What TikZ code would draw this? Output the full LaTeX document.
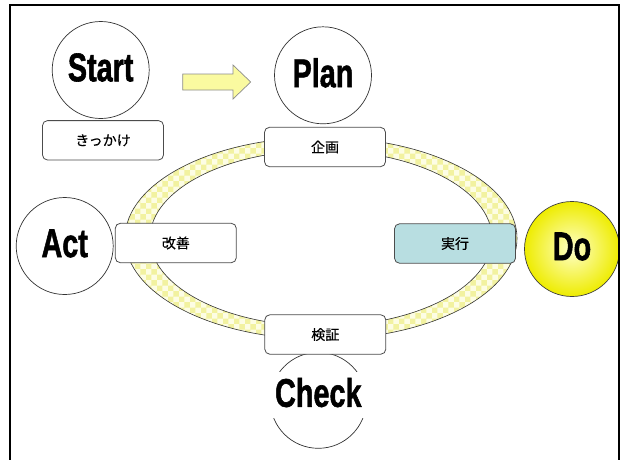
\documentclass[tikz,border=0pt]{standalone}
\usepackage{fontspec}
\usepackage{graphicx}
\setmainfont{Liberation Sans}
\newfontfamily\jp[FakeBold=0.4]{Noto Sans CJK JP}
\newfontfamily\heavy[FakeBold=1.6]{Liberation Sans Bold}
\usetikzlibrary{patterns}
\definecolor{ringA}{RGB}{253,253,228}
\definecolor{ringB}{RGB}{242,242,160}
\definecolor{arrowfill}{RGB}{250,250,160}
\definecolor{doin}{RGB}{255,255,200}
\definecolor{doout}{RGB}{238,236,0}
\definecolor{jikkou}{RGB}{184,222,225}
\newcommand{\pdcabig}[1]{\raisebox{2.5pt}[\height][\depth]{\scalebox{0.72}[1]{\fontsize{40}{40}\heavy #1}}}
\tikzset{
  bigcirc/.style={circle, draw=black!80, line width=0.7pt, fill=white, minimum size=97pt, inner sep=0pt},
  jpbox/.style={rectangle, rounded corners=5pt, draw=black!70, line width=0.8pt, fill=white,
    minimum width=121pt, minimum height=39.4pt, inner sep=0pt, font=\jp\fontsize{14}{15}\selectfont},
  ringline/.style={draw=black!80, line width=0.6pt},
  blockarrow/.style={draw=black!45, line width=0.7pt, fill=arrowfill},
  frameline/.style={draw=black, line width=2pt}
}
\begin{document}
\begin{tikzpicture}[x=1pt,y=-1pt]
\useasboundingbox (0,0) rectangle (623,459);
\clip (0,0) rectangle (623,459);
\fill[white] (0,0) rectangle (623,459);
% ring
\coordinate (rc) at (321,238.3);
\fill[ringA, even odd rule] (rc) ellipse [x radius=196, y radius=101] (rc) ellipse [x radius=171, y radius=88];
\fill[pattern=checkerboard, pattern color=ringB, even odd rule] (rc) ellipse [x radius=196, y radius=101] (rc) ellipse [x radius=171, y radius=88];
\draw[ringline] (rc) ellipse [x radius=196, y radius=101];
\draw[ringline] (rc) ellipse [x radius=171, y radius=88];
% circles
\node[bigcirc] (start) at (100.7,70) {\pdcabig{Start}};
\node[bigcirc] (plan) at (323,75.3) {\pdcabig{Plan}};
\node[bigcirc] (act) at (64.7,246) {\pdcabig{Act}};
\node[circle, draw=black!75, line width=0.7pt, minimum size=95pt, inner sep=0pt, inner color=doin, outer color=doout] (do) at (572,249) {\pdcabig{Do}};
\node[circle, draw=black!80, line width=0.7pt, minimum size=96pt, inner sep=0pt] (checkc) at (318.3,400.3) {};
\node[rectangle, fill=white, minimum width=112pt, minimum height=46pt, inner sep=0pt] (check) at (318.3,395) {\pdcabig{Check}};
% boxes
\node[jpbox] (kikkake) at (103,140.3) {きっかけ};
\node[jpbox] (kikaku) at (325,147) {企画};
\node[jpbox] (kaizen) at (175.8,243) {改善};
\node[jpbox, fill=jikkou] (jikko) at (455,243.5) {実行};
\node[jpbox] (kensho) at (325.3,334.5) {検証};
% block arrow
\draw[blockarrow] (182.7,74) -- (233,74) -- (233,65) -- (250.7,82) -- (233,99) -- (233,90) -- (182.7,90) -- cycle;
% frame
\draw[frameline] (10,480) -- (10,5) -- (619,5) -- (619,480);
\end{tikzpicture}
\end{document}
